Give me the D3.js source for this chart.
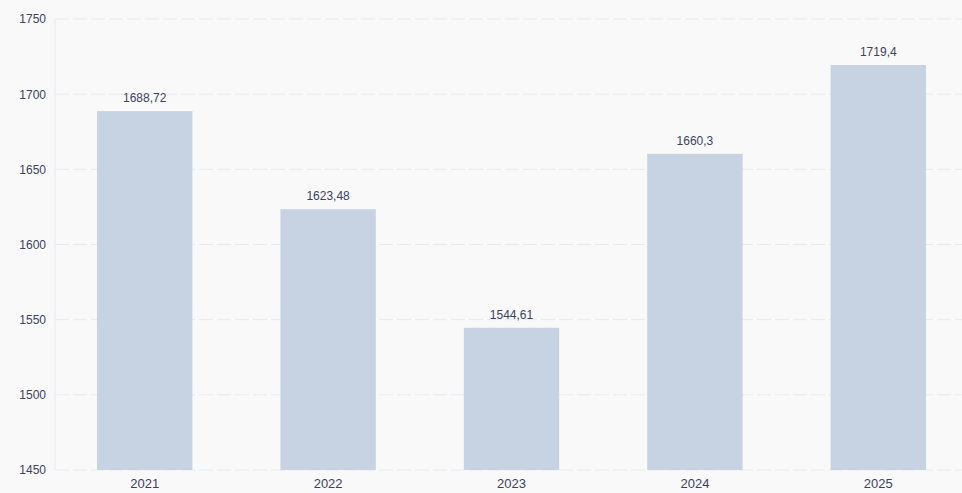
<!DOCTYPE html>
<html>
<head>
<meta charset="utf-8">
<script src="https://cdn.jsdelivr.net/npm/d3@7"></script>
<style>
  html, body { margin: 0; padding: 0; background: #f9f9f9; }
  svg { display: block; font-family: "Liberation Sans", Arial, sans-serif; }
</style>
</head>
<body>
<div id="chart"></div>
<script>
const years = ["2021", "2022", "2023", "2024", "2025"];
const values = [1688.72, 1623.48, 1544.61, 1660.3, 1719.4];
const yTicks = [1450, 1500, 1550, 1600, 1650, 1700, 1750];

const width = 962,
  height = 493,
  margin = { top: 19, right: -8, bottom: 23, left: 53 };

// scales
let xScale = d3.scaleBand()
  .domain(years)
  .range([margin.left, width - margin.right])
  .paddingInner(0.48)
  .paddingOuter(0.24);

let yScale = d3.scaleLinear()
  .domain([1450, 1750])
  .range([height - margin.bottom, margin.top]);

let svg = d3.select("#chart")
  .append("svg")
  .attr("width", width)
  .attr("height", height);

svg.append("rect")
  .attr("width", width).attr("height", height)
  .attr("fill", "#f9f9f9");

// horizontal grid
svg.selectAll(".grid").data(yTicks).enter()
  .append("line")
  .attr("class", "grid")
  .attr("x1", 55)
  .attr("x2", width)
  .attr("y1", d => yScale(d))
  .attr("y2", d => yScale(d))
  .attr("stroke", "#e8eaee")
  .attr("stroke-dasharray", "14,4");

// left axis line
svg.append("line")
  .attr("x1", 55).attr("x2", 55)
  .attr("y1", yScale(1750)).attr("y2", yScale(1450))
  .attr("stroke", "#e6eaf0");

// y axis labels
let yAxis = svg.append("g")
  .attr("transform", "translate(46,0)")
  .call(d3.axisLeft(yScale).tickValues(yTicks).tickSize(0).tickPadding(0).tickFormat(d3.format("d")));
yAxis.select(".domain").remove();
yAxis.selectAll("text")
  .attr("fill", "#3c4260")
  .style("font-size", "12px");

// bars
svg.selectAll(".bar").data(values).enter()
  .append("rect")
  .attr("class", "bar")
  .attr("x", (d, i) => xScale(years[i]))
  .attr("width", xScale.bandwidth())
  .attr("y", d => yScale(d))
  .attr("height", d => yScale(1450) - yScale(d))
  .attr("fill", "#c7d2e3");

// value labels
svg.selectAll(".val").data(values).enter()
  .append("text")
  .attr("class", "val")
  .attr("x", (d, i) => xScale(years[i]) + xScale.bandwidth() / 2)
  .attr("y", d => yScale(d) - 9)
  .attr("text-anchor", "middle")
  .attr("fill", "#3c4260")
  .style("font-size", "12px")
  .text(d => String(d).replace(".", ","));

// x axis labels
let xAxis = svg.append("g")
  .attr("transform", "translate(0," + (height - margin.bottom) + ")")
  .call(d3.axisBottom(xScale).tickSize(0).tickPadding(9));
xAxis.select(".domain").remove();
xAxis.selectAll("text")
  .attr("fill", "#3c4260")
  .style("font-size", "13px");
</script>
</body>
</html>
